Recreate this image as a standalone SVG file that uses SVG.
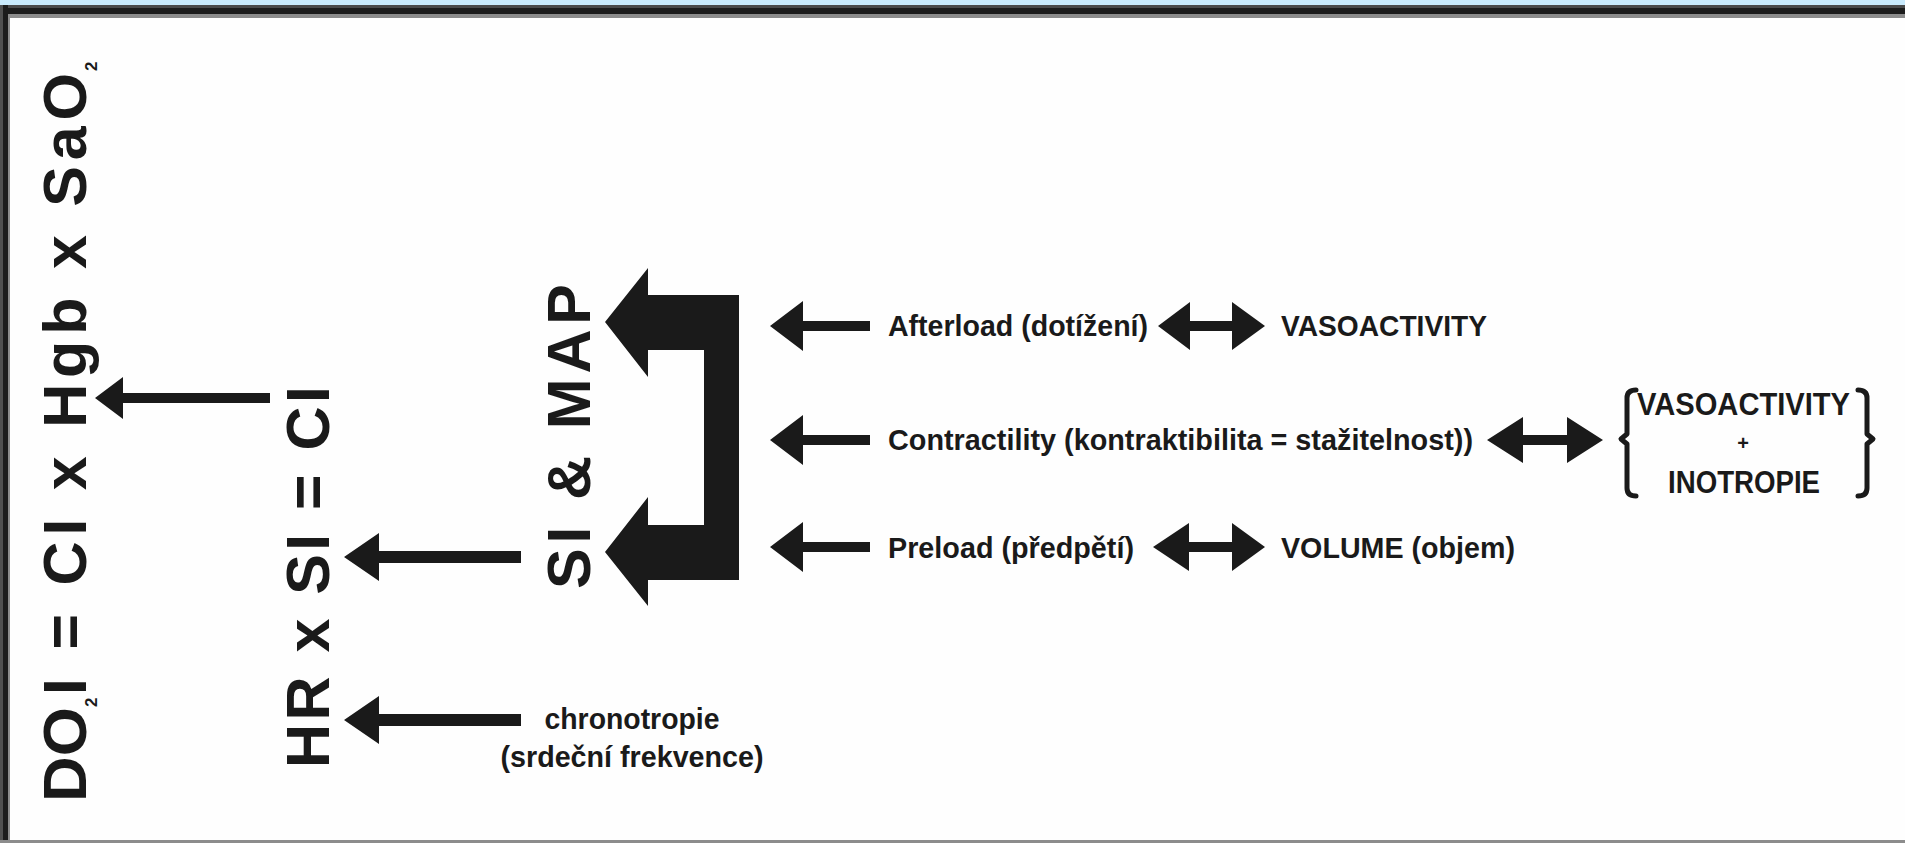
<svg xmlns="http://www.w3.org/2000/svg" width="1905" height="843" viewBox="0 0 1905 843">
<style>
.big{font-family:"Liberation Sans",Arial,sans-serif;font-weight:bold;font-size:61px;fill:#1a1a1a}
.sub{font-family:"Liberation Sans",Arial,sans-serif;font-weight:bold;font-size:17px;fill:#1a1a1a}
.lbl{font-family:"Liberation Sans",Arial,sans-serif;font-weight:bold;font-size:30px;fill:#1a1a1a}
.brk{fill:none;stroke:#1a1a1a;stroke-width:5;stroke-linecap:round;stroke-linejoin:round}
.arr{fill:#1a1a1a}
</style>
<rect x="0" y="0" width="1905" height="843" fill="#fefefe"/>
<g id="frame">
<rect x="0" y="0" width="1905" height="5" fill="#c9eafc"/>
<rect x="0" y="5" width="1905" height="3" fill="#4a4a4a"/>
<rect x="0" y="8" width="1905" height="6" fill="#1c1c1c"/>
<rect x="0" y="14" width="1905" height="4" fill="#8c8c8c"/>
<rect x="0" y="5" width="3" height="838" fill="#505050"/>
<rect x="3" y="5" width="5" height="838" fill="#1c1c1c"/>
<rect x="8" y="14" width="2" height="829" fill="#8c8c8c"/>
<rect x="0" y="840" width="1905" height="3" fill="#8c8c8c"/>
</g>
<g id="node-do2i">
<text class="big" transform="translate(86,802) rotate(-90)" textLength="95" lengthAdjust="spacingAndGlyphs">DO</text>
<text class="sub" transform="translate(97,707) rotate(-90)">2</text>
<text class="big" transform="translate(86,695) rotate(-90)" textLength="622" lengthAdjust="spacing">I = CI x Hgb x SaO</text>
<text class="sub" transform="translate(97,71) rotate(-90)">2</text>
</g>
<g id="node-hrsi">
<text class="big" transform="translate(329,768) rotate(-90)" textLength="382" lengthAdjust="spacing">HR x SI = CI</text>
</g>
<g id="node-simap">
<text class="big" transform="translate(590,589) rotate(-90)" textLength="305" lengthAdjust="spacing">SI &amp; MAP</text>
</g>
<g id="node-chrono">
<text class="lbl" x="632" y="729" text-anchor="middle" textLength="175" lengthAdjust="spacingAndGlyphs">chronotropie</text>
<text class="lbl" x="632" y="767" text-anchor="middle" textLength="263" lengthAdjust="spacingAndGlyphs">(srdeční frekvence)</text>
</g>
<g id="node-afterload">
<text class="lbl" x="888" y="336" textLength="260" lengthAdjust="spacingAndGlyphs">Afterload (dotížení)</text>
</g>
<g id="node-vasoactivity">
<text class="lbl" x="1281" y="336" textLength="206" lengthAdjust="spacingAndGlyphs">VASOACTIVITY</text>
</g>
<g id="node-contractility">
<text class="lbl" x="888" y="450" textLength="585" lengthAdjust="spacingAndGlyphs">Contractility (kontraktibilita = stažitelnost))</text>
</g>
<g id="node-vaso-ino">
<path class="brk" d="M1636,390 Q1627,390 1627,398 L1627,434 L1621,439 L1627,444 L1627,488 Q1627,496 1636,496"/>
<path class="brk" d="M1858,390 Q1867,390 1867,398 L1867,434 L1873,439 L1867,444 L1867,488 Q1867,496 1858,496"/>
<text class="lbl" x="1637" y="415" textLength="213" lengthAdjust="spacingAndGlyphs" style="font-size:31px">VASOACTIVITY</text>
<text class="lbl" x="1743" y="450" text-anchor="middle" style="font-size:20px">+</text>
<text class="lbl" x="1668" y="493" textLength="152" lengthAdjust="spacingAndGlyphs" style="font-size:31px">INOTROPIE</text>
</g>
<g id="node-preload">
<text class="lbl" x="888" y="558" textLength="246" lengthAdjust="spacingAndGlyphs">Preload (předpětí)</text>
</g>
<g id="node-volume">
<text class="lbl" x="1281" y="558" textLength="234" lengthAdjust="spacingAndGlyphs">VOLUME (objem)</text>
</g>
<g id="connectors">
<polygon class="arr" points="95,398 123,377 123,393 270,393 270,403 123,403 123,419"/>
<polygon class="arr" points="344,557 379,533 379,551 521,551 521,563 379,563 379,581"/>
<polygon class="arr" points="344,720 379,696 379,714 521,714 521,726 379,726 379,744"/>
<polygon class="arr" points="605,322 648,268 648,295 739,295 739,580 648,580 648,606 605,552 648,497 648,525 704,525 704,350 648,350 648,377"/>
<polygon class="arr" points="770,326 803,301 803,321 870,321 870,331 803,331 803,351"/>
<polygon class="arr" points="770,440 803,415 803,435 870,435 870,445 803,445 803,465"/>
<polygon class="arr" points="770,547 803,522 803,542 870,542 870,552 803,552 803,572"/>
<polygon class="arr" points="1158,326 1190,302 1190,321 1232,321 1232,302 1265,326 1232,350 1232,331 1190,331 1190,350"/>
<polygon class="arr" points="1487,440 1523,417 1523,435 1567,435 1567,417 1603,440 1567,463 1567,445 1523,445 1523,463"/>
<polygon class="arr" points="1153,547 1189,523 1189,542 1232,542 1232,523 1265,547 1232,571 1232,552 1189,552 1189,571"/>
</g>
</svg>
